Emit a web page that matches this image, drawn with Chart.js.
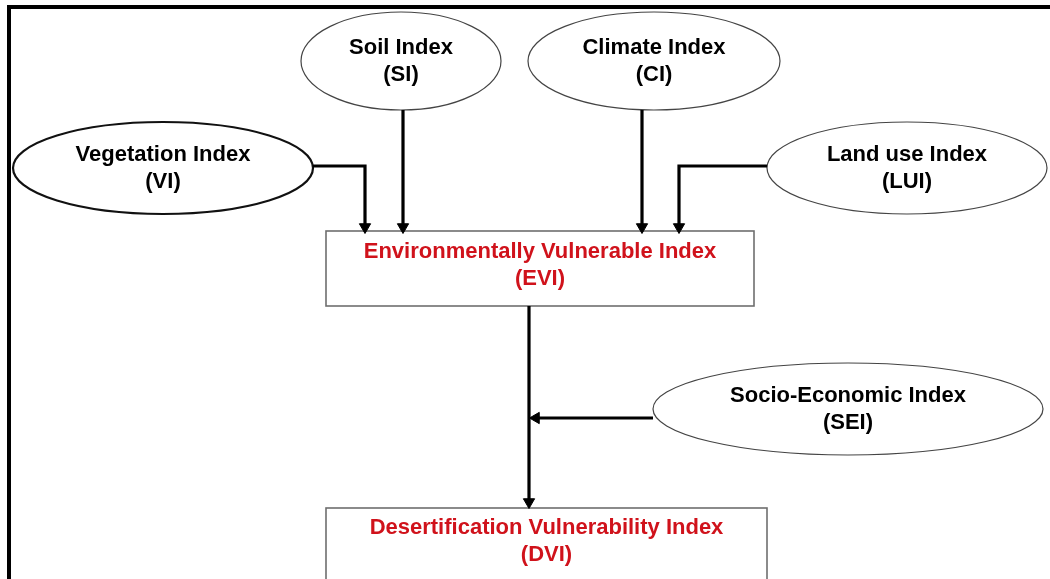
<!DOCTYPE html>
<html>
<head>
<meta charset="utf-8">
<script src="https://cdn.jsdelivr.net/npm/chart.js@4.4.1/dist/chart.umd.min.js"></script>
<style>
  html, body { margin: 0; padding: 0; background: #ffffff; }
  #wrap { width: 1050px; height: 579px; position: relative; }
  canvas { display: block; }
</style>
</head>
<body>
<div id="wrap"><canvas id="c" width="1050" height="579"></canvas></div>
<script>
// ---------- content (labels) ----------
const ovalTitles = ['Soil Index', 'Climate Index', 'Vegetation Index', 'Land use Index', 'Socio-Economic Index'];
const ovalCodes  = ['(SI)', '(CI)', '(VI)', '(LUI)', '(SEI)'];
const boxTitles  = ['Environmentally Vulnerable Index', 'Desertification Vulnerability Index'];
const boxCodes   = ['(EVI)', '(DVI)'];
// links: from -> to
const linkFrom = ['VI', 'SI', 'CI', 'LUI', 'EVI', 'SEI'];
const linkTo   = ['EVI', 'EVI', 'EVI', 'EVI', 'DVI', 'EVI-DVI'];

// ---------- layout (positions / sizes / styles kept apart) ----------
const ovalLayout = [
  { cx: 401, cy: 61,  rx: 100, ry: 49, lw: 1.2, stroke: '#444' },
  { cx: 654, cy: 61,  rx: 126, ry: 49, lw: 1.2, stroke: '#444' },
  { cx: 163, cy: 168, rx: 150, ry: 46, lw: 2.2, stroke: '#111' },
  { cx: 907, cy: 168, rx: 140, ry: 46, lw: 1.2, stroke: '#444' },
  { cx: 848, cy: 409, rx: 195, ry: 46, lw: 1.2, stroke: '#444' }
];
const boxLayout = [
  { x0: 326, y0: 231, x1: 754, y1: 306, ty: 252 },
  { x0: 326, y0: 508, x1: 767, y1: 640, ty: 528 }
];
const routes = [
  [{x:313,y:166},{x:365,y:166},{x:365,y:226}],
  [{x:403,y:110},{x:403,y:226}],
  [{x:642,y:110},{x:642,y:226}],
  [{x:767,y:166},{x:679,y:166},{x:679,y:226}],
  [{x:529,y:306},{x:529,y:502}],
  [{x:653,y:418},{x:536,y:418}]
];
const heads = [
  {x:365,y:227,r:180},{x:403,y:227,r:180},{x:642,y:227,r:180},{x:679,y:227,r:180},
  {x:529,y:502,r:180},{x:536,y:418,r:270}
];
const FONT = "bold 22px 'Liberation Sans', Arial, sans-serif";
const RED = '#d0121b';

const datasets = routes.map((pts, i) => ({
  type: 'line',
  label: linkFrom[i] + '→' + linkTo[i],
  data: pts,
  showLine: true,
  borderColor: '#000',
  borderWidth: 3.2,
  pointRadius: 0,
  tension: 0,
  fill: false,
  borderJoinStyle: 'miter',
  clip: false
}));
datasets.push({
  type: 'scatter',
  label: 'arrowheads',
  data: heads.map(h => ({x: h.x, y: h.y})),
  pointStyle: 'triangle',
  pointRadius: 6.5,
  rotation: heads.map(h => h.r),
  backgroundColor: '#000',
  borderColor: '#000',
  borderWidth: 1,
  clip: false
});

const diagramPlugin = {
  id: 'diagram',
  beforeDatasetsDraw(chart) {
    const ctx = chart.ctx, sx = chart.scales.x, sy = chart.scales.y;
    ctx.save();
    // outer frame
    ctx.strokeStyle = '#000';
    ctx.lineWidth = 4;
    ctx.beginPath();
    ctx.moveTo(sx.getPixelForValue(9), sy.getPixelForValue(600));
    ctx.lineTo(sx.getPixelForValue(9), sy.getPixelForValue(7));
    ctx.lineTo(sx.getPixelForValue(1060), sy.getPixelForValue(7));
    ctx.stroke();
    // ovals
    ovalLayout.forEach(o => {
      const cx = sx.getPixelForValue(o.cx), cy = sy.getPixelForValue(o.cy);
      const rx = Math.abs(sx.getPixelForValue(o.cx + o.rx) - cx);
      const ry = Math.abs(sy.getPixelForValue(o.cy + o.ry) - cy);
      ctx.beginPath();
      ctx.ellipse(cx, cy, rx, ry, 0, 0, Math.PI * 2);
      ctx.fillStyle = '#fff';
      ctx.fill();
      ctx.lineWidth = o.lw;
      ctx.strokeStyle = o.stroke;
      ctx.stroke();
    });
    // boxes
    boxLayout.forEach(b => {
      const x0 = sx.getPixelForValue(b.x0), x1 = sx.getPixelForValue(b.x1);
      const y0 = sy.getPixelForValue(b.y0), y1 = sy.getPixelForValue(b.y1);
      ctx.fillStyle = '#fff';
      ctx.fillRect(x0, y0, x1 - x0, y1 - y0);
      ctx.lineWidth = 1.6;
      ctx.strokeStyle = '#6e6e6e';
      ctx.strokeRect(x0, y0, x1 - x0, y1 - y0);
    });
    ctx.restore();
  },
  afterDatasetsDraw(chart) {
    const ctx = chart.ctx, sx = chart.scales.x, sy = chart.scales.y;
    ctx.save();
    ctx.font = FONT;
    ctx.textAlign = 'center';
    ctx.textBaseline = 'middle';
    ovalLayout.forEach((o, i) => {
      ctx.fillStyle = '#000';
      const cx = sx.getPixelForValue(o.cx);
      ctx.fillText(ovalTitles[i], cx, sy.getPixelForValue(o.cy - 13));
      ctx.fillText(ovalCodes[i], cx, sy.getPixelForValue(o.cy + 14));
    });
    boxLayout.forEach((b, i) => {
      ctx.fillStyle = RED;
      const cx = sx.getPixelForValue((b.x0 + b.x1) / 2);
      ctx.fillText(boxTitles[i], cx, sy.getPixelForValue(b.ty));
      ctx.fillText(boxCodes[i], cx, sy.getPixelForValue(b.ty + 27));
    });
    ctx.restore();
  }
};

new Chart(document.getElementById('c'), {
  type: 'scatter',
  data: { datasets },
  options: {
    responsive: false,
    animation: false,
    devicePixelRatio: 1,
    layout: { padding: 0, autoPadding: false },
    plugins: { legend: { display: false }, tooltip: { enabled: false }, title: { display: false } },
    scales: {
      x: { type: 'linear', min: 0, max: 1050, display: false },
      y: { type: 'linear', min: 0, max: 579, reverse: true, display: false }
    }
  },
  plugins: [diagramPlugin]
});
</script>
</body>
</html>
